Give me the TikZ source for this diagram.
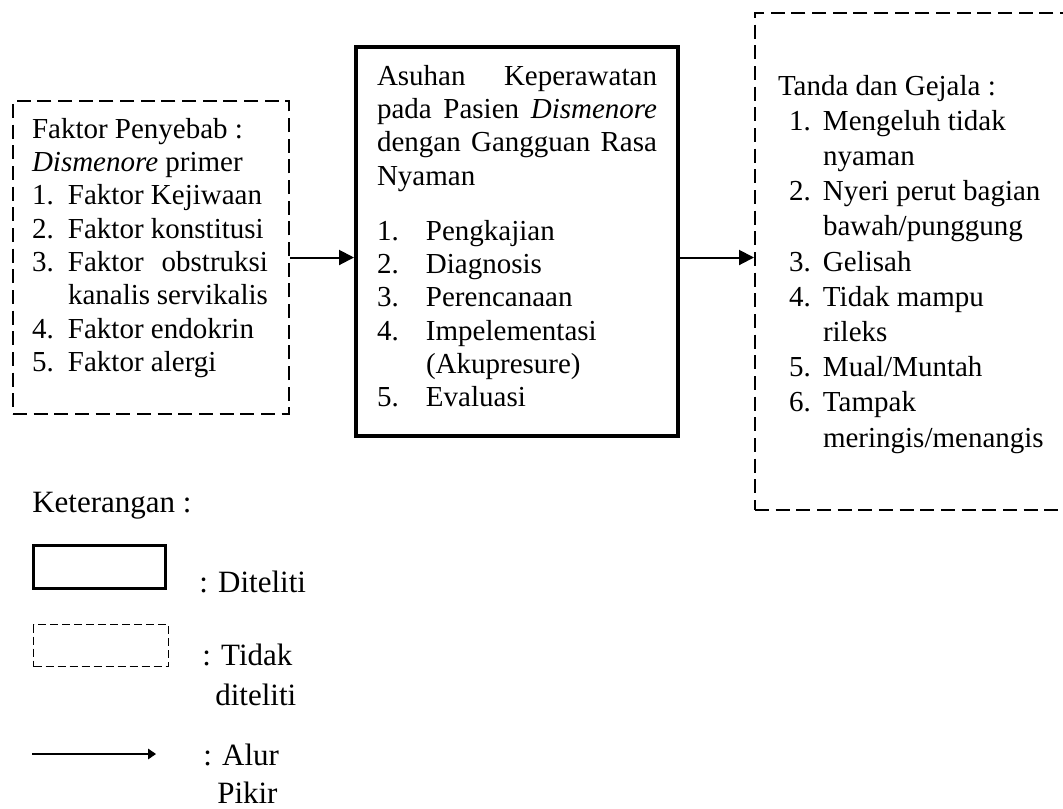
\documentclass[tikz,border=0pt]{standalone}
\usepackage{fontspec}
\setmainfont{Liberation Serif}
\usetikzlibrary{arrows.meta}
\newcommand\lstitem[3]{\par\hangindent=#1\hangafter=1\noindent\makebox[#1][l]{#2}#3}
\newcommand\bodyfont{\fontsize{21.75}{25}\selectfont}
\begin{document}
\begin{tikzpicture}[x=0.75pt,y=-0.75pt,
  dbox/.style={draw, line width=1.5pt, dash pattern=on 10.5pt off 5pt, rectangle, inner sep=0pt},
  sbox/.style={draw, line width=3pt, rectangle, inner sep=0pt},
  txt/.style={anchor=base west, inner sep=0pt, outer sep=0pt},
  conn/.style={line width=1.5pt, -{Triangle[length=11.25pt,width=11.25pt]}},
  legconn/.style={line width=0.8pt, -{Triangle[length=6pt,width=8pt]}},
  legtxt/.style={anchor=base west, inner sep=0pt, font=\fontsize{23.25}{28}\selectfont}]
\useasboundingbox (0,0) rectangle (1063,808);
\clip (0,0) rectangle (1063,808);
% boxes
\node[dbox, minimum width=207pt, minimum height=234.75pt] (leftbox) at (151,257.5) {};
\node[sbox, minimum width=241.5pt, minimum height=291.75pt] (midbox) at (517,241.5) {};
\node[dbox, minimum width=258.75pt, minimum height=372.75pt] (rightbox) at (927.5,261.5) {};
% texts
\node[txt] (lefttext) at (32,138) {\parbox[t]{177pt}{\bodyfont\setlength\parindent{0pt}%
Faktor Penyebab :\par
\textit{Dismenore} primer
\lstitem{27pt}{1.}{Faktor Kejiwaan}
\lstitem{27pt}{2.}{Faktor konstitusi}
\lstitem{27pt}{3.}{Faktor\hfill obstruksi\\kanalis servikalis}
\lstitem{27pt}{4.}{Faktor endokrin}
\lstitem{27pt}{5.}{Faktor alergi}}};
\node[txt] (midtext) at (377,85) {\parbox[t]{210pt}{\bodyfont\setlength\parindent{0pt}%
Asuhan\hfill Keperawatan\\
pada Pasien \textit{Dismenore}\linebreak
dengan Gangguan Rasa\linebreak
Nyaman\par\vspace{16.3pt}
\lstitem{36.75pt}{1.}{Pengkajian}
\lstitem{36.75pt}{2.}{Diagnosis}
\lstitem{36.75pt}{3.}{Perencanaan}
\lstitem{36.75pt}{4.}{Impelementasi\\(Akupresure)}
\lstitem{36.75pt}{5.}{Evaluasi}}};
\node[txt] (righttext) at (778,95) {\parbox[t]{280pt}{\fontsize{21.75}{26.4}\selectfont\setlength\parindent{0pt}%
Tanda dan Gejala :\par
\leftskip=8.25pt
\lstitem{25.5pt}{1.}{Mengeluh tidak\\nyaman}
\lstitem{25.5pt}{2.}{Nyeri perut bagian\\bawah/punggung}
\lstitem{25.5pt}{3.}{Gelisah}
\lstitem{25.5pt}{4.}{Tidak mampu\\rileks}
\lstitem{25.5pt}{5.}{Mual/Muntah}
\lstitem{25.5pt}{6.}{Tampak\\meringis/menangis}\par}};
% connectors
\draw[conn] (leftbox.east) -- (leftbox.east -| midbox.west);
\draw[conn] (midbox.east |- leftbox.east) -- (rightbox.west |- leftbox.east);
% legend
\node[legtxt] (ket) at (32,512) {Keterangan :};
\node[sbox, line width=2.5pt, minimum width=99pt, minimum height=32.25pt] (legsolid) at (99.5,567) {};
\node[legtxt] (legsolidtxt) at (199,592) {: Diteliti};
\node[draw, line width=1pt, dash pattern=on 6pt off 3pt, minimum width=101.25pt, minimum height=31.5pt, inner sep=0pt] (legdash) at (101,645.5) {};
\node[legtxt] (legdashtxt) at (202,665) {: Tidak};
\node[legtxt] (legdashtxt2) at (215,705) {diteliti};
\coordinate (la1) at (32,754);
\coordinate (la2) at (156,754);
\draw[legconn] (la1) -- (la2);
\node[legtxt] (legarrtxt) at (203,765) {: Alur};
\node[legtxt] (legarrtxt2) at (217,803) {Pikir};
\end{tikzpicture}
\end{document}
